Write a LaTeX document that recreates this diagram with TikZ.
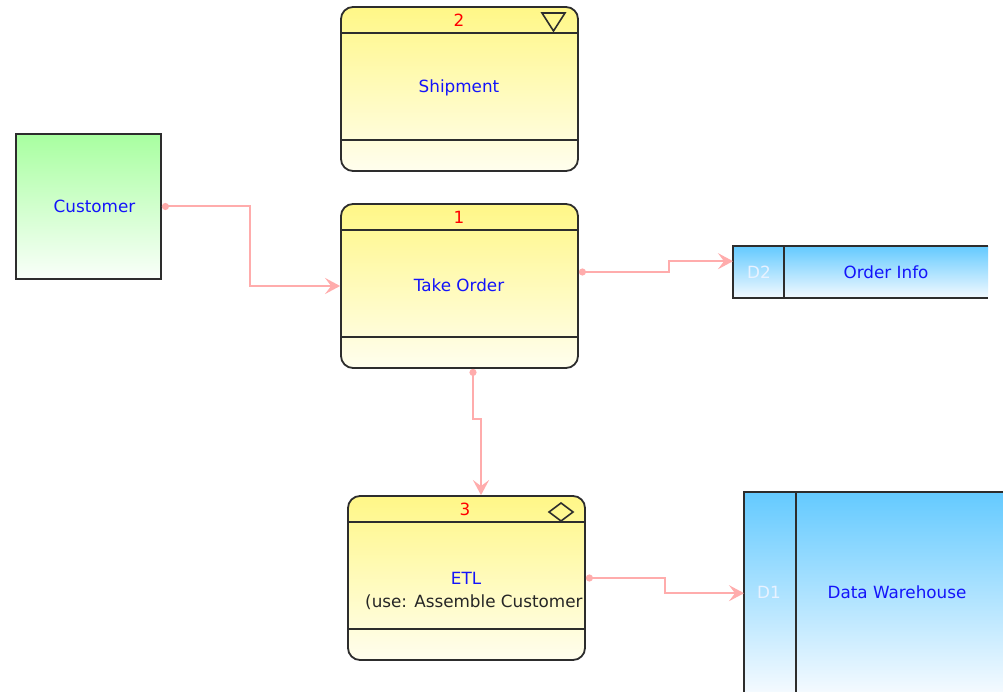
\documentclass[tikz,border=0pt]{standalone}
\usepackage{fontspec}
\setmainfont{DejaVu Sans}
\usetikzlibrary{arrows.meta,positioning,calc}

\definecolor{yelTop}{RGB}{255,247,135}
\definecolor{yelBot}{RGB}{255,254,238}
\definecolor{grnTop}{RGB}{168,255,160}
\definecolor{grnBot}{RGB}{250,255,250}
\definecolor{bluTop}{RGB}{100,202,255}
\definecolor{bluBot}{RGB}{244,250,255}
\definecolor{edge}{RGB}{45,45,45}
\definecolor{txtBlue}{RGB}{20,20,250}
\definecolor{txtRed}{RGB}{255,0,0}
\definecolor{flowPink}{RGB}{255,172,172}
\definecolor{idWhite}{RGB}{232,242,255}

\tikzset{
  x=1pt, y=-1pt,
  border/.style={draw=edge, line width=1.8pt},
  proc/.style={border, rounded corners=12pt, top color=yelTop, bottom color=yelBot,
    minimum width=237pt, minimum height=164pt, inner sep=0pt},
  extent/.style={border, top color=grnTop, bottom color=grnBot,
    minimum width=145pt, minimum height=145pt, inner sep=0pt},
  storebox/.style={top color=bluTop, bottom color=bluBot, inner sep=0pt, anchor=north west},
  txt/.style={font=\fontsize{16.8}{20}\selectfont, inner sep=0pt},
  lbl/.style={txt, text=txtBlue},
  numlbl/.style={txt, text=txtRed},
  plainlbl/.style={txt, text=black!85},
  idlbl/.style={txt, text=idWhite},
  flow/.style={draw=flowPink, line width=2pt,
    {Circle[length=7pt]}-{Stealth[length=15pt,width=16pt,inset=6pt]}},
  marker/.style={draw=edge, line width=1.6pt, fill=none, line join=miter},
}

\begin{document}
\begin{tikzpicture}
\fill[white] (0,0) rectangle (1003,692);
\useasboundingbox (0,0) rectangle (1003,692);
\clip (0,0) rectangle (1003,692);

% external entity
\node[extent] (cust) at (88.5,206.5) {};
\node[lbl] (cust-t) at (94.5,206.5) {Customer};

% processes
\node[proc] (ship) at (459.5,89) {};
\draw[border] ([yshift=-27pt]ship.north west) -- ([yshift=-27pt]ship.north east);
\draw[border] ([yshift=32pt]ship.south west) -- ([yshift=32pt]ship.south east);
\node[numlbl] (ship-n) at (459,20) {2};
\node[lbl] (ship-t) at (459,88) {Shipment};
\draw[marker] (542,13) -- (565,13) -- (553.5,31) -- cycle;

\node[proc] (take) at (459.5,286) {};
\draw[border] ([yshift=-27pt]take.north west) -- ([yshift=-27pt]take.north east);
\draw[border] ([yshift=32pt]take.south west) -- ([yshift=32pt]take.south east);
\node[numlbl] (take-n) at (459,217) {1};
\node[lbl] (take-t) at (459,285) {Take Order};

\node[proc] (etl) at (466.5,578) {};
\draw[border] ([yshift=-27pt]etl.north west) -- ([yshift=-27pt]etl.north east);
\draw[border] ([yshift=32pt]etl.south west) -- ([yshift=32pt]etl.south east);
\node[numlbl] (etl-n) at (465,509) {3};
\node[lbl] (etl-t) at (466,578) {ETL};
\node[plainlbl, anchor=west] (etl-u) at (365,602) {(use: Assemble Customer};
\draw[marker] (549,512) -- (561,503) -- (573,512) -- (561,521) -- cycle;

% data stores
\node[storebox, minimum width=255pt, minimum height=52pt] (oi) at (733,246) {};
\draw[border] (oi.north east) -- (oi.north west) -- (oi.south west) -- (oi.south east);
\draw[border] ([xshift=51pt]oi.north west) -- ([xshift=51pt]oi.south west);
\node[idlbl] (oi-id) at (759,272) {D2};
\node[lbl] (oi-t) at (886,272) {Order Info};

\node[storebox, minimum width=270pt, minimum height=200pt] (dw) at (744,492) {};
\draw[border] (dw.north east) -- (dw.north west) -- ([yshift=-10pt]dw.south west);
\draw[border] ([xshift=52pt]dw.north west) -- ([xshift=52pt,yshift=-10pt]dw.south west);
\node[idlbl] (dw-id) at (769,592) {D1};
\node[lbl] (dw-t) at (897,592) {Data Warehouse};

% data flows
\draw[flow] (cust.east) -- (250,206.5) |- (take.west);
\draw[flow] ([xshift=13.5pt]take.south) -- (473,419) -| ([xshift=14.5pt]etl.north);
\draw[flow] ([yshift=14pt]take.east) -- (669,272) |- ([yshift=11pt]oi.west);
\draw[flow] (etl.east) -- (665,578) |- ([yshift=-1pt]dw.west);
\end{tikzpicture}
\end{document}
